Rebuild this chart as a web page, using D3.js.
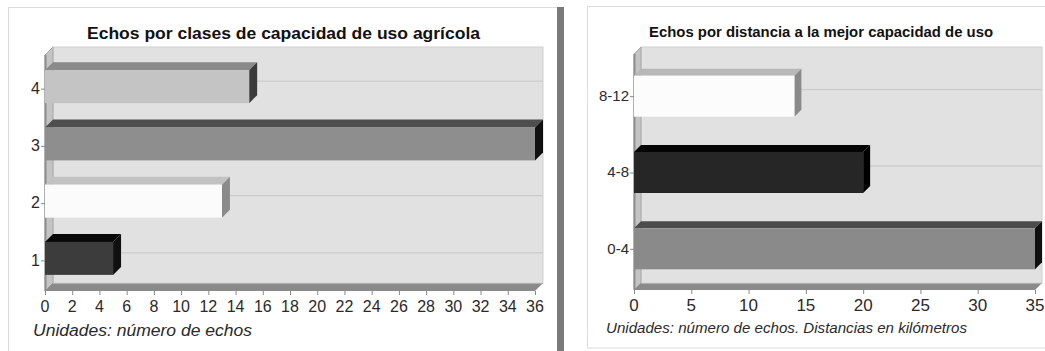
<!DOCTYPE html>
<html><head><meta charset="utf-8">
<script src="https://cdn.jsdelivr.net/npm/d3@7/dist/d3.min.js"></script>
<style>
html,body{margin:0;padding:0;background:#fff;}
svg{display:block;font-family:"Liberation Sans",Arial,sans-serif;}
</style></head>
<body>
<svg id="c" width="1045" height="351"></svg>
<script>
// ---- data ----
const leftTitle = "Echos por clases de capacidad de uso agrícola";
const leftCategories = ["4", "3", "2", "1"];
const leftValues = [15, 36, 13, 5];
const leftTicks = [0, 2, 4, 6, 8, 10, 12, 14, 16, 18, 20, 22, 24, 26, 28, 30, 32, 34, 36];
const leftNote = "Unidades: número de echos";

const rightTitle = "Echos por distancia a la mejor capacidad de uso";
const rightCategories = ["8-12", "4-8", "0-4"];
const rightValues = [14, 20, 35];
const rightTicks = [0, 5, 10, 15, 20, 25, 30, 35];
const rightNote = "Unidades: número de echos. Distancias en kilómetros";

// ---- styles ----
const leftFront = ["#c4c4c4", "#8e8e8e", "#fbfbfb", "#3c3c3c"];
const leftTop   = ["#8a8a8a", "#4e4e4e", "#c2c2c2", "#080808"];
const leftSide  = ["#3a3a3a", "#101010", "#8a8a8a", "#101010"];
const rightFront = ["#fcfcfc", "#262626", "#8a8a8a"];
const rightTop   = ["#b8b8b8", "#050505", "#4c4c4c"];
const rightSide  = ["#8a8a8a", "#000000", "#101010"];

const svg = d3.select("#c");

// panels
svg.append("rect").attr("x", 8.5).attr("y", 7.5).attr("width", 549).attr("height", 350)
  .attr("fill", "#fff").attr("stroke", "#dcdcdc");
svg.append("rect").attr("x", 557).attr("y", 7).attr("width", 7).attr("height", 344).attr("fill", "#7a7a7a");
svg.append("rect").attr("x", 587.5).attr("y", 6.5).attr("width", 470).attr("height", 341.5)
  .attr("fill", "#fff").attr("stroke", "#dcdcdc");

function chart(o) {
  const g = svg.append("g");
  const d = o.depth;
  const x = d3.scaleLinear().domain([0, o.max]).range([o.x0, o.x1]);
  const y = d3.scaleBand().domain(o.cats).range([o.yTop, o.yBot]);
  const floorY = o.floorY;
  const wallTop = o.wallTop;

  // back wall
  g.append("rect").attr("x", o.x0 + d).attr("y", wallTop)
    .attr("width", o.x1 - o.x0).attr("height", floorY - d - wallTop)
    .attr("fill", "#e1e1e1").attr("stroke", "#cfcfcf");
  // gridlines on back wall
  g.selectAll(".grid").data(o.cats).enter().append("line")
    .attr("x1", o.x0 + d).attr("x2", o.x1 + d)
    .attr("y1", c => y(c) + y.bandwidth() / 2 - d + 0.5)
    .attr("y2", c => y(c) + y.bandwidth() / 2 - d + 0.5)
    .attr("stroke", "#c6c6c6").attr("stroke-width", 1);
  // left wall
  g.append("path")
    .attr("d", `M${o.x0},${wallTop + d}L${o.x0 + d},${wallTop}L${o.x0 + d},${floorY - d}L${o.x0},${floorY}Z`)
    .attr("fill", "#c4c4c4").attr("stroke", "#a8a8a8");
  g.append("line").attr("x1", o.x0 + 0.5).attr("x2", o.x0 + 0.5).attr("y1", wallTop + d).attr("y2", floorY)
    .attr("stroke", "#8e8e8e").attr("stroke-width", 2);
  // floor
  g.append("path")
    .attr("d", `M${o.x0},${floorY}L${o.x0 + d},${floorY - d}L${o.x1 + d},${floorY - d}L${o.x1},${floorY}Z`)
    .attr("fill", "#8a8a8a");
  g.append("line").attr("x1", o.x0 + d).attr("x2", o.x1 + d).attr("y1", floorY - d + 0.5).attr("y2", floorY - d + 0.5)
    .attr("stroke", "#b0b0b0");

  // bars
  const bars = g.selectAll(".bar").data(o.cats.map((c, i) => ({ c, v: o.vals[i], i }))).enter().append("g");
  const top = b => y(b.c) + y.bandwidth() / 2 + o.barShift - o.barH / 2;
  bars.append("path")
    .attr("d", b => { const t = top(b), xa = x(0), xb = x(b.v);
      return `M${xa},${t}L${xa + d},${t - d}L${xb + d},${t - d}L${xb},${t}Z`; })
    .attr("fill", b => o.topC[b.i]);
  bars.append("path")
    .attr("d", b => { const t = top(b), xb = x(b.v);
      return `M${xb},${t}L${xb + d},${t - d}L${xb + d},${t - d + o.barH}L${xb},${t + o.barH}Z`; })
    .attr("fill", b => o.sideC[b.i]);
  bars.append("rect")
    .attr("x", x(0)).attr("y", b => top(b))
    .attr("width", b => x(b.v) - x(0)).attr("height", o.barH)
    .attr("fill", b => o.frontC[b.i]);

  // y axis labels + ticks
  g.selectAll(".yt").data(o.cats).enter().append("line")
    .attr("x1", o.x0 - 4).attr("x2", o.x0)
    .attr("y1", c => y(c) + y.bandwidth() / 2 + 0.5).attr("y2", c => y(c) + y.bandwidth() / 2 + 0.5)
    .attr("stroke", "#888");
  g.selectAll(".yl").data(o.cats).enter().append("text")
    .attr("x", o.x0 - 5).attr("y", c => y(c) + y.bandwidth() / 2 + o.yLabelDy)
    .attr("text-anchor", "end").attr("dominant-baseline", "middle")
    .attr("font-size", o.yFont).attr("fill", "#2a2a2a").text(c => c);

  // x axis ticks + labels
  g.selectAll(".xt").data(o.ticks).enter().append("line")
    .attr("x1", t => x(t) + 0.5).attr("x2", t => x(t) + 0.5)
    .attr("y1", floorY).attr("y2", floorY + 4).attr("stroke", "#888");
  g.selectAll(".xl").data(o.ticks).enter().append("text")
    .attr("x", t => x(t)).attr("y", floorY + 21)
    .attr("text-anchor", "middle").attr("font-size", o.tickFont).attr("fill", "#2a2a2a").text(t => t);

  // title
  g.append("text").attr("x", o.titleX).attr("y", o.titleY)
    .attr("font-size", o.titleFont).attr("font-weight", "bold").attr("fill", "#111")
    .attr("textLength", o.titleW).attr("lengthAdjust", "spacingAndGlyphs").text(o.title);
  // note
  g.append("text").attr("x", o.noteX).attr("y", o.noteY)
    .attr("font-size", o.noteFont).attr("font-style", "italic").attr("fill", "#2a2a2a")
    .attr("textLength", o.noteW).attr("lengthAdjust", "spacingAndGlyphs").text(o.note);
}

chart({
  cats: leftCategories, vals: leftValues, ticks: leftTicks, max: 36,
  x0: 45, x1: 535, yTop: 60, yBot: 289, floorY: 291, wallTop: 47, depth: 8,
  barH: 33, barShift: -2, yLabelDy: 1, tickFont: 16, yFont: 16,
  frontC: leftFront, topC: leftTop, sideC: leftSide,
  title: leftTitle, titleX: 87, titleY: 39, titleFont: 16, titleW: 393,
  note: leftNote, noteX: 33, noteY: 336, noteFont: 16, noteW: 219
});

chart({
  cats: rightCategories, vals: rightValues, ticks: rightTicks, max: 35,
  x0: 634, x1: 1035, yTop: 58, yBot: 287, floorY: 290, wallTop: 47, depth: 7,
  barH: 41, barShift: 0, yLabelDy: 1, tickFont: 17, yFont: 15,
  frontC: rightFront, topC: rightTop, sideC: rightSide,
  title: rightTitle, titleX: 649, titleY: 37, titleFont: 15.5, titleW: 344,
  note: rightNote, noteX: 606, noteY: 333, noteFont: 15, noteW: 361
});
</script>
</body></html>
